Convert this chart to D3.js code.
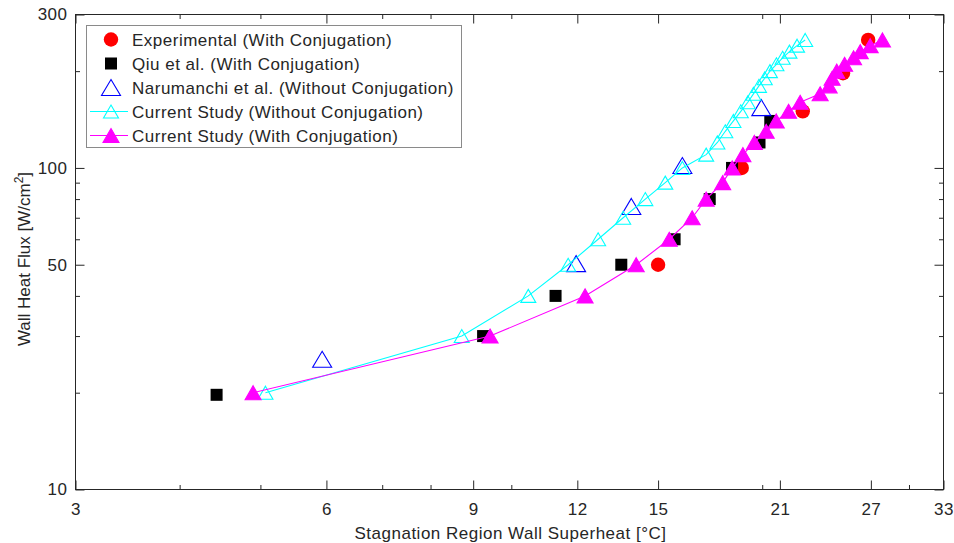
<!DOCTYPE html>
<html>
<head>
<meta charset="utf-8">
<script src="https://cdn.jsdelivr.net/npm/d3@7"></script>
<style>
  html, body { margin: 0; padding: 0; background: #fff; }
  svg { display: block; }
  text { font-family: "Liberation Sans", Arial, Helvetica, sans-serif; fill: #262626; }
</style>
</head>
<body>
<svg id="chart" width="954" height="543"></svg>
<script>
// Experimental data (with conjugation)
const expX = [15.0, 18.9, 22.37, 25.0, 26.8];
const expY = [50, 100, 150, 197, 250];

// Qiu et al. (with conjugation)
const qiuX = [4.43, 9.25, 11.3, 13.55, 15.7, 17.3, 18.4, 19.85, 20.45];
const qiuY = [19.7, 30, 40, 50, 60, 80, 100, 120, 140];

// Narumanchi et al. (without conjugation)
const naruX = [5.93, 11.96, 13.93, 16.04, 19.95];
const naruY = [25.4, 50.4, 75.9, 101.7, 154];

// Current study, without conjugation
const curNoX = [5.07, 8.72, 10.48, 11.70, 12.71, 13.62, 14.48, 15.30, 16.04, 17.13, 17.67, 18.06,
                18.47, 18.85, 19.22, 19.52, 19.82, 20.14, 20.43, 20.8, 21.16, 21.56, 22.02, 22.52];
const curNoY = [20, 30, 40, 50, 60, 70, 80, 90, 100, 110, 120, 130,
                140, 150, 160, 170, 180, 190, 200, 210, 220, 230, 240, 250];

// Current study, with conjugation
const curWiX = [4.90, 9.43, 12.26, 14.12, 15.47, 16.48, 17.13, 17.93, 18.41, 18.96, 19.57, 20.22,
                20.79, 21.51, 22.21, 23.47, 24.06, 24.26, 24.57, 25.11, 25.74, 26.22, 26.95, 27.88];
const curWiY = [20, 30, 40, 50, 60, 70, 80, 90, 100, 110, 120, 130,
                140, 150, 160, 170, 180, 190, 200, 210, 220, 230, 240, 250];

// Axis ticks
const xMajorTicks = [3, 6, 9, 12, 15, 21, 27, 33];
const xMinorTicks = [4, 5, 7, 8, 10, 20, 30];
const yMajorTicks = [10, 50, 100, 300];
const yMinorTicks = [20, 30, 40, 60, 70, 80, 90, 200];

const xTitle = "Stagnation Region Wall Superheat [°C]";
const yTitle = "Wall Heat Flux [W/cm";
const legendLabels = [
  "Experimental (With Conjugation)",
  "Qiu et al. (With Conjugation)",
  "Narumanchi et al. (Without Conjugation)",
  "Current Study (Without Conjugation)",
  "Current Study (With Conjugation)"
];

const zip = (xs, ys) => xs.map((x, i) => [x, ys[i]]);

const svg = d3.select("#chart");
const pLeft = 75.5, pRight = 943.5, pTop = 14.5, pBottom = 489.5;
const FS = 17;

const x = d3.scaleLog().domain([3, 33]).range([pLeft, pRight]);
const y = d3.scaleLog().domain([10, 300]).range([pBottom, pTop]);

const axisColor = "#262626";

function styleAxis(g) {
  g.select(".domain").remove();
  g.selectAll(".tick line").attr("stroke", axisColor).attr("stroke-width", 1);
  g.selectAll(".tick text")
    .style("font-size", FS + "px")
    .style("letter-spacing", "0.5px")
    .attr("fill", axisColor);
}

// Major ticks with labels (bottom, left), ticks pointing inward
svg.append("g").attr("transform", `translate(0,${pBottom})`)
  .call(d3.axisBottom(x).tickValues(xMajorTicks).tickFormat(d3.format("d"))
    .tickSizeInner(-9).tickSizeOuter(0).tickPadding(13))
  .call(styleAxis);
svg.append("g").attr("transform", `translate(${pLeft},0)`)
  .call(d3.axisLeft(y).tickValues(yMajorTicks).tickFormat(d3.format("d"))
    .tickSizeInner(-9).tickSizeOuter(0).tickPadding(8))
  .call(styleAxis);
// Top / right majors (no labels)
svg.append("g").attr("transform", `translate(0,${pTop})`)
  .call(d3.axisTop(x).tickValues(xMajorTicks).tickFormat("").tickSizeInner(-9).tickSizeOuter(0))
  .call(styleAxis);
svg.append("g").attr("transform", `translate(${pRight},0)`)
  .call(d3.axisRight(y).tickValues(yMajorTicks).tickFormat("").tickSizeInner(-9).tickSizeOuter(0))
  .call(styleAxis);
// Minor ticks on all four sides
svg.append("g").attr("transform", `translate(0,${pBottom})`)
  .call(d3.axisBottom(x).tickValues(xMinorTicks).tickFormat("").tickSizeInner(-4.5).tickSizeOuter(0))
  .call(styleAxis);
svg.append("g").attr("transform", `translate(0,${pTop})`)
  .call(d3.axisTop(x).tickValues(xMinorTicks).tickFormat("").tickSizeInner(-4.5).tickSizeOuter(0))
  .call(styleAxis);
svg.append("g").attr("transform", `translate(${pLeft},0)`)
  .call(d3.axisLeft(y).tickValues(yMinorTicks).tickFormat("").tickSizeInner(-4.5).tickSizeOuter(0))
  .call(styleAxis);
svg.append("g").attr("transform", `translate(${pRight},0)`)
  .call(d3.axisRight(y).tickValues(yMinorTicks).tickFormat("").tickSizeInner(-4.5).tickSizeOuter(0))
  .call(styleAxis);

// Axes box
svg.append("rect")
  .attr("x", pLeft).attr("y", pTop)
  .attr("width", pRight - pLeft).attr("height", pBottom - pTop)
  .attr("fill", "none").attr("stroke", axisColor).attr("stroke-width", 1);

// Axis titles
svg.append("text")
  .attr("x", (pLeft + pRight) / 2 + 1).attr("y", 539)
  .attr("text-anchor", "middle")
  .style("font-size", FS + "px").style("letter-spacing", "0.5px")
  .text(xTitle);

const yt = svg.append("text")
  .attr("transform", `translate(30,259) rotate(-90)`)
  .attr("text-anchor", "middle")
  .style("font-size", FS + "px");
yt.append("tspan").text(yTitle);
yt.append("tspan").attr("dy", -7).style("font-size", "12px").text("2");
yt.append("tspan").attr("dy", 7).text("]");

// Marker shapes
const triPath = (w, h) => `M0,${-h / 2}L${w / 2},${h / 2}L${-w / 2},${h / 2}Z`;

const plot = svg.append("g");

function drawCircles(g, pts) {
  g.selectAll(null).data(pts).join("circle")
    .attr("cx", d => x(d[0])).attr("cy", d => y(d[1])).attr("r", 7.2)
    .attr("fill", "#ff0000");
}
function drawSquares(g, pts) {
  g.selectAll(null).data(pts).join("rect")
    .attr("x", d => x(d[0]) - 6).attr("y", d => y(d[1]) - 6)
    .attr("width", 12).attr("height", 12)
    .attr("fill", "#000");
}
function drawTris(g, pts, w, h, fill, stroke) {
  g.selectAll(null).data(pts).join("path")
    .attr("transform", d => `translate(${x(d[0])},${y(d[1])})`)
    .attr("d", triPath(w, h))
    .attr("fill", fill).attr("stroke", stroke).attr("stroke-width", 1.1);
}

const line = d3.line().x(d => x(d[0])).y(d => y(d[1]));

// Series drawn in legend order
drawCircles(plot.append("g"), zip(expX, expY));
drawSquares(plot.append("g"), zip(qiuX, qiuY));
drawTris(plot.append("g"), zip(naruX, naruY), 19, 16, "none", "#0000ff");

const gNo = plot.append("g");
gNo.append("path").datum(zip(curNoX, curNoY)).attr("d", line)
  .attr("fill", "none").attr("stroke", "#00ffff").attr("stroke-width", 1.1);
drawTris(gNo, zip(curNoX, curNoY), 15, 13, "none", "#00ffff");

const gWi = plot.append("g");
gWi.append("path").datum(zip(curWiX, curWiY)).attr("d", line)
  .attr("fill", "none").attr("stroke", "#ff00ff").attr("stroke-width", 1.1);
drawTris(gWi, zip(curWiX, curWiY), 16, 14, "#ff00ff", "#ff00ff");

// Legend
const lg = svg.append("g");
lg.append("rect")
  .attr("x", 86.5).attr("y", 25.5).attr("width", 375).attr("height", 122)
  .attr("fill", "#fff").attr("stroke", "#8a8a8a").attr("stroke-width", 1);

const rowY = i => 39.5 + i * 24;
const mx = 111;
legendLabels.forEach((lab, i) => {
  const cy = rowY(i);
  const g = lg.append("g");
  if (i === 0) {
    g.append("circle").attr("cx", mx).attr("cy", cy).attr("r", 7.2).attr("fill", "#ff0000");
  } else if (i === 1) {
    g.append("rect").attr("x", mx - 6).attr("y", cy - 6).attr("width", 12).attr("height", 12).attr("fill", "#000");
  } else if (i === 2) {
    g.append("path").attr("transform", `translate(${mx},${cy})`).attr("d", triPath(19, 16))
      .attr("fill", "none").attr("stroke", "#0000ff").attr("stroke-width", 1.1);
  } else if (i === 3) {
    g.append("line").attr("x1", 90).attr("x2", 128).attr("y1", cy).attr("y2", cy)
      .attr("stroke", "#00ffff").attr("stroke-width", 1.1);
    g.append("path").attr("transform", `translate(${mx},${cy})`).attr("d", triPath(15, 13))
      .attr("fill", "none").attr("stroke", "#00ffff").attr("stroke-width", 1.1);
  } else {
    g.append("line").attr("x1", 90).attr("x2", 128).attr("y1", cy).attr("y2", cy)
      .attr("stroke", "#ff00ff").attr("stroke-width", 1.1);
    g.append("path").attr("transform", `translate(${mx},${cy})`).attr("d", triPath(16, 14))
      .attr("fill", "#ff00ff").attr("stroke", "#ff00ff").attr("stroke-width", 1.1);
  }
  g.append("text").attr("x", 132).attr("y", cy + 6)
    .style("font-size", FS + "px").style("letter-spacing", "0.5px")
    .attr("fill", "#000")
    .text(lab);
});
</script>
</body>
</html>
